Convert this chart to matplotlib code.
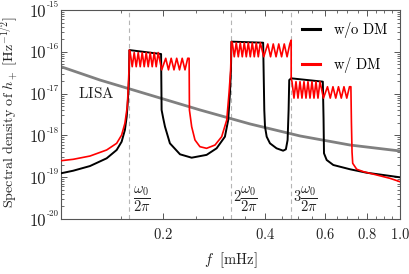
import matplotlib
matplotlib.use('Agg')
import matplotlib.pyplot as plt
from matplotlib.ticker import FixedLocator, LogLocator, NullFormatter
from matplotlib.transforms import offset_copy, blended_transform_factory

plt.rcParams['mathtext.fontset'] = 'cm'
plt.rcParams['font.family'] = 'DejaVu Serif'

# orbital frequency omega_0 / 2pi in mHz
f0 = 0.1592

# w/o DM curve (f in mHz, spectral density in Hz^-1/2)
black_f = [0.100, 0.1087, 0.1218, 0.1364, 0.1460, 0.1510, 0.1544, 0.1563, 0.1576, 0.1587,
           0.1592, 0.1974,
           0.1981, 0.2003, 0.2027, 0.2096, 0.2245, 0.2429, 0.2689, 0.2878, 0.3045, 0.3114, 0.3151, 0.3172,
           0.3183, 0.3948,
           0.3979, 0.3998, 0.4044, 0.4135, 0.4324, 0.4522, 0.4607, 0.4661, 0.4693, 0.4713,
           0.4775, 0.5921,
           0.5950, 0.5968, 0.6078, 0.6357, 0.7118, 0.7972, 0.8926, 1.0]
black_S = [1.24e-19, 1.43e-19, 1.85e-19, 2.83e-19, 4.48e-19, 7.06e-19, 1.35e-18, 2.80e-18, 7.03e-18, 2.11e-17,
           1.10e-16, 8.85e-17,
           4.06e-18, 2.56e-18, 1.62e-18, 6.46e-19, 3.53e-19, 2.93e-19, 3.42e-19, 4.91e-19, 9.31e-19, 2.33e-18, 1.02e-17, 3.5e-17,
           1.75e-16, 1.65e-16,
           3.98e-18, 1.62e-18, 9.31e-19, 6.47e-19, 4.91e-19, 4.31e-19, 4.65e-19, 7.76e-19, 4.06e-18, 2.11e-17,
           2.32e-17, 1.93e-17,
           2.5e-18, 3.73e-19, 2.58e-19, 1.96e-19, 1.55e-19, 1.28e-19, 1.13e-19, 9.95e-20]

# w/ DM curve outside the bands
red_pre_f = [0.100, 0.1087, 0.1218, 0.1364, 0.1460, 0.1510, 0.1544, 0.1569, 0.1580, 0.1588]
red_pre_S = [2.48e-19, 2.68e-19, 3.21e-19, 4.48e-19, 6.47e-19, 1.02e-18, 1.95e-18, 4.86e-18, 1.46e-17, 4.0e-17]
red_mid_f = [0.2393, 0.2430, 0.2485, 0.2570, 0.2689, 0.2847, 0.2979, 0.3083, 0.3131, 0.3165]
red_mid_S = [4.06e-18, 1.61e-18, 7.76e-19, 5.37e-19, 4.91e-19, 5.89e-19, 9.31e-19, 2.33e-18, 1.02e-17, 3.5e-17]
red_post_f = [0.7190, 0.7220, 0.7253, 0.7453, 0.7792, 0.8538, 0.9344, 1.0]
red_post_S = [2.0e-18, 4.0e-19, 2.15e-19, 1.55e-19, 1.36e-19, 1.13e-19, 9.4e-20, 7.8e-20]

# w/ DM ripples inside the bands: peak/trough positions in units of n*f0
ripple_pos = [1.0054, 1.0192, 1.0331, 1.0473, 1.0616, 1.0761, 1.0908, 1.1058, 1.1208, 1.1362,
              1.1517, 1.1675, 1.1834, 1.1996, 1.2160, 1.2451, 1.2796, 1.3039, 1.3280, 1.3535,
              1.3786, 1.4053, 1.4310, 1.4586, 1.4858]
peak_a = [9.6e-17, 1.65e-16, 1.93e-17]
trough_a = [4.4e-17, 7.6e-17, 7.8e-18]
peak_b = [7.0e-17, 1.54e-16, 1.46e-17]
trough_b = [3.7e-17, 7.6e-17, 7.8e-18]
band_end = [7.0e-17, 1.9e-16, 1.46e-17]

# LISA sensitivity
lisa_f = [0.100, 0.1304, 0.1960, 0.2572, 0.3611, 0.5071, 0.7120, 1.0]
lisa_S = [4.41e-17, 2.11e-17, 7.85e-18, 4.06e-18, 1.88e-18, 9.7e-19, 5.89e-19, 4.24e-19]

y_exponents = [-20, -19, -18, -17, -16, -15]

# assemble the red curve
red_f = list(red_pre_f)
red_S = list(red_pre_S)
for i, n in enumerate([1, 2, 3]):
    red_f.append(n * f0)
    red_S.append(black_S[[10, 24, 36][i]])
    for k, r in enumerate(ripple_pos):
        red_f.append(n * f0 * r)
        if k % 2 == 0:
            red_S.append(peak_a[i] if k < 15 else peak_b[i])
        else:
            red_S.append(trough_a[i] if k < 15 else trough_b[i])
    red_f.append(1.5 * n * f0)
    red_S.append(band_end[i])
    if n == 1:
        red_f += red_mid_f
        red_S += red_mid_S
red_f += red_post_f
red_S += red_post_S

fig = plt.figure(figsize=(4.09, 2.74), dpi=100)
ax = fig.add_axes([0.149, 0.2007, 0.829, 0.7628])

for n in [1, 2, 3]:
    ax.axvline(n * f0, color='#b5b5b5', lw=0.8, ls=(0, (4, 3)), zorder=1)

ax.plot(lisa_f, lisa_S, color='#808080', lw=2.0, zorder=2)
ax.plot(black_f, black_S, color='black', lw=1.4, zorder=3, label=r'$\mathrm{w/o\ DM}$')
ax.plot(red_f, red_S, color='#ff0000', lw=1.2, zorder=4, label=r'$\mathrm{w/\ DM}$')

ax.set_xscale('log')
ax.set_yscale('log')
ax.set_xlim(0.1, 1.0)
ax.set_ylim(1e-20, 1e-15)

ax.xaxis.set_major_locator(FixedLocator([0.2, 0.4, 0.6, 0.8, 1.0]))
ax.set_xticklabels([r'$0.2$', r'$0.4$', r'$0.6$', r'$0.8$', r'$1.0$'])
ax.xaxis.set_minor_locator(FixedLocator([0.15, 0.25, 0.3, 0.35, 0.45, 0.5, 0.55, 0.65, 0.7,
                                         0.75, 0.85, 0.9, 0.95]))
ax.xaxis.set_minor_formatter(NullFormatter())
ax.yaxis.set_major_locator(FixedLocator([10.0 ** e for e in y_exponents]))
ax.yaxis.set_major_formatter(NullFormatter())
ax.yaxis.set_minor_locator(LogLocator(base=10, subs=range(2, 10), numticks=20))
ax.yaxis.set_minor_formatter(NullFormatter())

# y tick labels with a small superscript exponent
trans = blended_transform_factory(ax.transAxes, ax.transData)
for e in y_exponents:
    ax.text(0, 10.0 ** e, '10', family='cmr10', fontsize=12, color='#222222', ha='right',
            va='center', transform=offset_copy(trans, fig, x=-14.5, y=-2, units='dots'))
    ax.text(0, 10.0 ** e, '-%d' % abs(e), family='cmr10', fontsize=6.5, color='#222222',
            ha='left', va='center', transform=offset_copy(trans, fig, x=-14.5, y=5, units='dots'))

ax.tick_params(which='both', direction='in', top=True, right=True, color='#555555',
               labelcolor='#222222')
ax.tick_params(which='major', length=4, width=0.7)
ax.tick_params(which='minor', length=2, width=0.6)
ax.tick_params(axis='x', labelsize=10.5, pad=6)
for s in ax.spines.values():
    s.set_color('#555555')
    s.set_linewidth(0.8)

ax.set_xlabel(r'$f\ \ [\mathrm{mHz}]$', fontsize=10.5, color='#222222', labelpad=6)
ax.set_ylabel(r'$\mathrm{Spectral\ density\ of}\ h_+\ [\mathrm{Hz}^{-1/2}]$', fontsize=10.2,
              color='#222222')
ax.yaxis.set_label_coords(-0.118, 0.51)

ax.text(0.112, 1.03e-17, r'$\mathrm{LISA}$', fontsize=11, color='#222222', va='center')
ax.text(f0 * 1.022, 3.0e-20, r'$\dfrac{\omega_0}{2\pi}$', fontsize=10.5, color='#222222', va='center')
ax.text(2 * f0 * 1.01, 3.0e-20, r'$2\dfrac{\omega_0}{2\pi}$', fontsize=10.5, color='#222222', va='center')
ax.text(3 * f0 * 1.01, 3.0e-20, r'$3\dfrac{\omega_0}{2\pi}$', fontsize=10.5, color='#222222', va='center')

leg = ax.legend(loc='upper right', bbox_to_anchor=(0.965, 0.95), frameon=False, fontsize=10.5,
                handlelength=1.2, handletextpad=0.9, labelspacing=1.0, borderaxespad=0,
                borderpad=0)
for h in leg.legend_handles:
    h.set_linewidth(2.2)

fig.savefig('out.png', dpi=100)
